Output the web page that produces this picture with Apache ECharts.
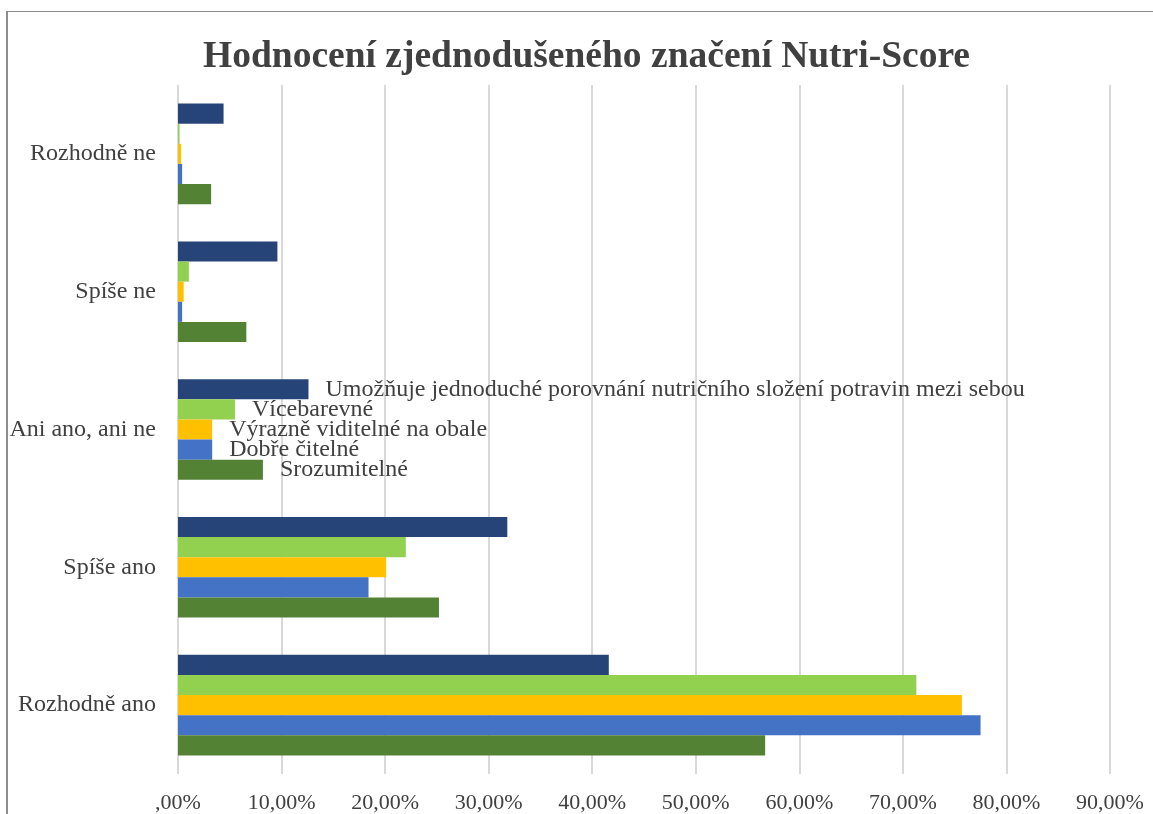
<!DOCTYPE html>
<html>
<head>
<meta charset="utf-8">
<script src="https://cdn.jsdelivr.net/npm/echarts@6/dist/echarts.min.js"></script>
<style>
  html, body { margin: 0; padding: 0; background: #fff; overflow: hidden; }
  #frame { position: absolute; left: 6px; top: 11px; width: 1300px; height: 900px; border-left: 2px solid #8c8c8c; border-top: 1px solid #8c8c8c; }
  #chart { position: absolute; left: 0; top: 0; width: 1153px; height: 814px; }
</style>
</head>
<body>
<div id="frame"></div>
<div id="chart"></div>
<script>
// Answer categories (bottom to top)
const categories = ["Rozhodně ano", "Spíše ano", "Ani ano, ani ne", "Spíše ne", "Rozhodně ne"];

// Series values in percent, same order as categories
const porovnani = [41.6, 31.8, 12.6, 9.6, 4.4];
const vicebarevne = [71.3, 22.0, 5.5, 1.05, 0.15];
const vyrazneViditelne = [75.7, 20.1, 3.3, 0.55, 0.3];
const dobreCitelne = [77.5, 18.4, 3.3, 0.4, 0.4];
const srozumitelne = [56.7, 25.2, 8.2, 6.6, 3.2];

// ECharts puts the first series on top of each group
const seriesNames = [
  "Umožňuje jednoduché porovnání nutričního složení potravin mezi sebou",
  "Vícebarevné",
  "Výrazně viditelné na obale",
  "Dobře čitelné",
  "Srozumitelné",
];
const seriesColors = ["#264478", "#92D050", "#FFC000", "#4472C4", "#548235"];
const seriesValues = [porovnani, vicebarevne, vyrazneViditelne, dobreCitelne, srozumitelne];

// Series names are shown as labels only in the "Ani ano, ani ne" group
const labelIndex = 2;

const font = "'Liberation Serif', 'Times New Roman', serif";
const textColor = "#404040";

const series = seriesNames.map((name, s) => {
  return {
    name: name,
    type: "bar",
    barGap: "0%",
    barCategoryGap: "27%",
    itemStyle: { color: seriesColors[s] },
    label: {
      show: false,
      position: "right",
      distance: 17,
      formatter: "{a}",
      fontFamily: font,
      fontSize: 24,
      color: textColor,
    },
    data: seriesValues[s].map((v, i) => {
      if (i === labelIndex) {
        return { value: v, label: { show: true } };
      }
      return v;
    }),
  };
});

const chart = echarts.init(document.getElementById("chart"));
chart.setOption({
  animation: false,
  title: {
    text: "Hodnocení zjednodušeného značení Nutri-Score",
    left: 198,
    top: 33,
    textStyle: {
      fontFamily: font,
      fontSize: 37.5,
      fontWeight: "bold",
      color: textColor,
    },
  },
  grid: { left: 178, right: 43, top: 85, bottom: 35 },
  xAxis: {
    type: "value",
    min: 0,
    max: 90,
    interval: 10,
    axisLine: { show: false },
    axisTick: { show: false },
    splitLine: { lineStyle: { color: "#d9d9d9", width: 2 } },
    axisLabel: {
      margin: 18,
      fontFamily: font,
      fontSize: 22,
      color: textColor,
      formatter: (v) => (v === 0 ? ",00%" : v.toFixed(2).replace(".", ",") + "%"),
    },
  },
  yAxis: {
    type: "category",
    data: categories,
    axisLine: { show: false },
    axisTick: { show: false },
    axisLabel: {
      margin: 22,
      fontFamily: font,
      fontSize: 24,
      color: textColor,
    },
  },
  series: series,
});
</script>
</body>
</html>
